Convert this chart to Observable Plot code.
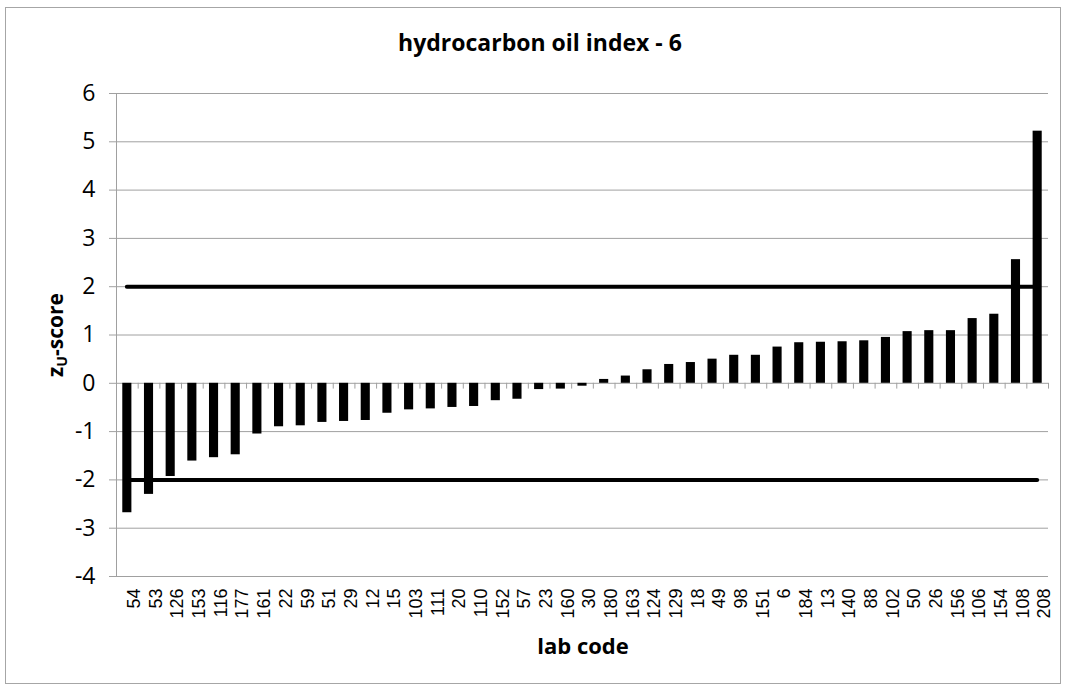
<!DOCTYPE html>
<html>
<head>
<meta charset="utf-8">
<script src="https://cdn.jsdelivr.net/npm/d3@7"></script>
<script src="https://cdn.jsdelivr.net/npm/@observablehq/plot@0.6"></script>
<style>
  html, body { margin: 0; padding: 0; background: #fff; }
  #wrap { position: relative; width: 1066px; height: 690px; overflow: hidden; }
  #frame { position: absolute; left: 5px; top: 7px; width: 1056px; height: 677px; border: 1px solid #a6a6a6; box-sizing: border-box; }
  #chart { position: absolute; left: 0; top: 0; }
  .t { position: absolute; font-family: "Open Sans", Lato, sans-serif; font-weight: bold; color: #000; white-space: nowrap; }
  #title { left: 0; width: 1080px; top: 26px; text-align: center; font-size: 23px; }
  #xlab { left: 0; width: 1166px; top: 630px; text-align: center; font-size: 22px; }
  #ylab { left: 56px; top: 335px; font-size: 21px; transform: translate(-50%, -50%) rotate(-90deg); }
  #ylab sub { font-size: 14px; vertical-align: -4px; }
</style>
</head>
<body>
<div id="wrap">
  <div id="frame"></div>
  <div id="chart"></div>
  <div class="t" id="title">hydrocarbon oil index - 6</div>
  <div class="t" id="xlab">lab code</div>
  <div class="t" id="ylab">z<sub>U</sub>-score</div>
</div>
<script>
const labCodes = ["54","53","126","153","116","177","161","22","59","51","29","12","15","103","111","20","110","152","57","23","160","30","180","163","124","129","18","49","98","151","6","184","13","140","88","102","50","26","156","106","154","108","208"];
const zScores = [-2.68,-2.30,-1.93,-1.61,-1.54,-1.48,-1.05,-0.90,-0.88,-0.81,-0.79,-0.77,-0.62,-0.55,-0.53,-0.50,-0.48,-0.36,-0.33,-0.13,-0.12,-0.06,0.08,0.15,0.28,0.39,0.43,0.50,0.58,0.58,0.75,0.84,0.85,0.86,0.88,0.95,1.07,1.09,1.09,1.34,1.43,2.56,5.22];
const yTicks = [-4,-3,-2,-1,0,1,2,3,4,5,6];
const limits = [-2, 2];

const n = labCodes.length;
const rows = labCodes.map((code, i) => ({code, i, z: zScores[i]}));
const gray = "#a0a0a0";

const chart = Plot.plot({
  width: 1066,
  height: 690,
  marginTop: 93,
  marginBottom: 114,
  marginLeft: 116,
  marginRight: 18,
  style: {background: "transparent", overflow: "visible"},
  x: {domain: [0, n], axis: null},
  y: {domain: [-4, 6], axis: null},
  marks: [
    Plot.ruleY(yTicks, {stroke: gray, strokeWidth: 1}),
    Plot.ruleX([0], {y1: -4, y2: 6, stroke: gray}),
    Plot.axisY({ticks: yTicks, anchor: "left", label: null, tickSize: 7, tickPadding: 14, stroke: gray, fill: "#000", fontSize: 23, fontFamily: "Open Sans, Lato, sans-serif", tickFormat: d => String(d).replace("\u2212", "-")}),
    Plot.ruleX(d3.range(n + 1), {y1: 0, y2: -0.12, stroke: gray}),
    Plot.rectY(rows, {x1: d => d.i + 0.29, x2: d => d.i + 0.71, y1: 0, y2: "z", fill: "#000"}),
    Plot.ruleY(limits, {x1: 0.5, x2: n - 0.5, stroke: "#000", strokeWidth: 4, strokeLinecap: "round"}),
    Plot.axisX({ticks: rows.map(d => d.i + 0.5), label: null, tickFormat: v => labCodes[Math.floor(v)], anchor: "bottom", rotate: -90, tickSize: 0, tickPadding: 12, textAnchor: "end", fontSize: 18, fontFamily: "Liberation Sans, Arial, sans-serif", fill: "#000"})
  ]
});
document.getElementById("chart").appendChild(chart);
</script>
</body>
</html>
